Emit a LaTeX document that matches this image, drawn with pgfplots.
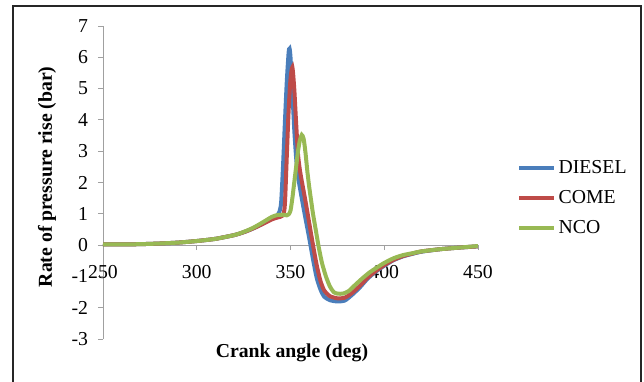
\documentclass[border=0pt]{standalone}
\usepackage{pgfplots}
\pgfplotsset{compat=1.18}
\usepackage{fontspec}
\setmainfont{Liberation Serif}
\definecolor{cblue}{HTML}{4A7EBB}
\definecolor{cred}{HTML}{BE4B48}
\definecolor{cgreen}{HTML}{98B954}
\definecolor{axgray}{HTML}{A0A0A0}
\newcommand{\cf}{\fontsize{14.8}{16.5}\selectfont}
\begin{document}
\begin{tikzpicture}
\begin{axis}[
  width=281.25pt, height=234.75pt, scale only axis,
  xmin=250, xmax=450, ymin=-3, ymax=7,
  axis x line=middle, axis y line=left,
  hide obscured x ticks=false, hide obscured y ticks=false,
  axis line style={-, draw=axgray, line width=0.6pt},
  xtick={250,300,350,400,450}, ytick={-3,-2,...,7},
  tick align=outside, major tick length=3.75pt,
  tick style={draw=axgray, line width=0.6pt},
  tick label style={font=\cf},
  /pgf/number format/assume math mode=true,
  xticklabel style={yshift=-8pt},
  yticklabel style={xshift=-4pt},
  xlabel={\textbf{Crank angle (deg)}},
  ylabel={\textbf{Rate of pressure rise (bar)}},
  label style={font=\cf},
  xlabel style={at={(axis description cs:0.504,-0.045)}, anchor=center},
  ylabel style={at={(axis description cs:-0.149,0.518)}, anchor=center},
  legend style={at={(axis description cs:1.104,0.581)}, anchor=north west,
    draw=none, fill=none, font=\cf, row sep=7.5pt, inner sep=0pt},
  legend cell align=left,
  legend image code/.code={\draw[#1, line width=3pt] (0pt,0pt) -- (26pt,0pt);},
  every axis plot/.append style={line width=3pt, smooth, tension=0.4},
]
\addplot[cblue] coordinates {
(250,0.02) (260,0.02) (270,0.03) (280,0.05) (290,0.08) (300,0.13) (310,0.2)
(320,0.32) (325,0.41) (330,0.53) (335,0.68) (340,0.85) (343,0.95) (344,1.05)
(345,1.35) (346,2.5) (347,3.9) (348,5.2) (349,6.15) (349.5,6.28) (350,6.0)
(351,4.9) (352,3.7) (353,2.8) (354,2.2) (356,1.5) (358,0.85) (360,0.22)
(362,-0.45) (364,-1.05) (366,-1.42) (368,-1.65) (371,-1.76) (375,-1.8)
(379,-1.77) (383,-1.58) (387,-1.35) (391,-1.08) (395,-0.87) (400,-0.66)
(405,-0.48) (410,-0.36) (415,-0.28) (420,-0.21) (430,-0.13) (440,-0.08) (450,-0.04)
};
\addlegendentry{DIESEL}
\addplot[cred] coordinates {
(250,0.02) (260,0.02) (270,0.03) (280,0.05) (290,0.08) (300,0.13) (310,0.2)
(320,0.32) (325,0.41) (330,0.53) (335,0.67) (340,0.82) (343,0.88) (346,0.95)
(347,1.3) (348,2.8) (349,4.3) (350,5.3) (351,5.68) (352,5.0) (353,3.9)
(354,2.9) (355,2.4) (356,2.05) (358,1.4) (360,0.7) (362,0.0) (364,-0.65)
(366,-1.15) (368,-1.45) (371,-1.63) (375,-1.7) (379,-1.68) (383,-1.52)
(387,-1.3) (391,-1.05) (395,-0.85) (400,-0.64) (405,-0.47) (410,-0.35)
(415,-0.27) (420,-0.2) (430,-0.13) (440,-0.08) (450,-0.04)
};
\addlegendentry{COME}
\addplot[cgreen] coordinates {
(250,0.02) (260,0.02) (270,0.03) (280,0.05) (290,0.08) (300,0.13) (310,0.2)
(320,0.32) (325,0.42) (330,0.55) (335,0.72) (340,0.9) (343,0.96) (346,0.97)
(348,0.95) (349,0.98) (350,1.1) (351,1.5) (352,2.0) (353,2.5) (354,3.0)
(355,3.35) (356,3.52) (357,3.4) (358,2.95) (359,2.35) (360,1.85) (361,1.42)
(362,1.0) (363,0.65) (364,0.3) (365,-0.05) (366,-0.35) (367,-0.62) (369,-1.02)
(371,-1.32) (373,-1.5) (375,-1.55) (378,-1.55) (381,-1.47) (384,-1.3) (388,-1.08)
(392,-0.88) (396,-0.72) (400,-0.57) (405,-0.42) (410,-0.32) (415,-0.26)
(420,-0.2) (430,-0.13) (440,-0.08) (450,-0.03)
};
\addlegendentry{NCO}
\end{axis}
\draw[line width=1.5pt, black!85] (-67.65pt,-40pt) -- (-67.65pt,249.6pt) -- (403.3pt,249.6pt) -- (403.3pt,-40pt);
\pgfresetboundingbox
\path[use as bounding box] (-77.25pt,-32.25pt) rectangle (405.75pt,254.25pt);
\end{tikzpicture}
\end{document}
